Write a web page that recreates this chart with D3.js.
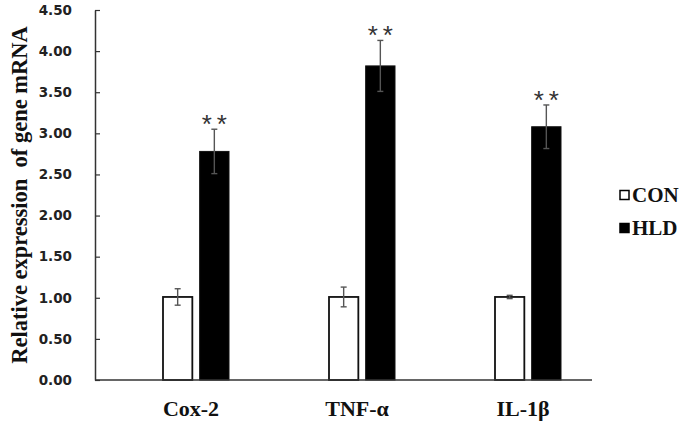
<!DOCTYPE html>
<html>
<head>
<meta charset="utf-8">
<script src="https://cdn.jsdelivr.net/npm/d3@7/dist/d3.min.js"></script>
<style>
  html, body { margin: 0; padding: 0; background: #fff; }
  svg { display: block; }
</style>
</head>
<body>
<svg id="chart" width="685" height="426"></svg>
<script>
const categories = ["Cox-2", "TNF-α", "IL-1β"];
const series = ["CON", "HLD"];
const conValues = [1.01, 1.01, 1.01];
const conErrors = [0.10, 0.12, 0.02];
const hldValues = [2.78, 3.82, 3.08];
const hldErrors = [0.27, 0.31, 0.265];
const yTicks = [0, 0.5, 1, 1.5, 2, 2.5, 3, 3.5, 4, 4.5];
const yTitle = "Relative expression  of gene mRNA";

const svg = d3.select("#chart");
const serif = "'Liberation Serif', 'Times New Roman', serif";

const y = d3.scaleLinear().domain([0, 4.5]).range([380, 10]);
const x0 = d3.scaleBand().domain(categories).range([113, 611]);
const x1 = d3.scaleBand().domain(series)
  .range([x0.bandwidth() / 2 - 33, x0.bandwidth() / 2 + 33]).paddingInner(0.2);

const rows = categories.map((c, i) => ({
  cat: c,
  items: [
    { s: "CON", v: conValues[i], e: conErrors[i] },
    { s: "HLD", v: hldValues[i], e: hldErrors[i] }
  ]
}));

// Bars
const g = svg.append("g");
const groups = g.selectAll("g.cat").data(rows).join("g")
  .attr("transform", d => `translate(${x0(d.cat)},0)`);

groups.selectAll("rect").data(d => d.items).join("rect")
  .attr("x", d => x1(d.s))
  .attr("y", d => y(d.v))
  .attr("width", x1.bandwidth())
  .attr("height", d => y(0) - y(d.v))
  .attr("fill", d => d.s === "CON" ? "#fff" : "#000")
  .attr("stroke", "#111")
  .attr("stroke-width", d => d.s === "CON" ? 1.8 : 1);

// Error bars
const eb = groups.selectAll("g.err").data(d => d.items).join("g")
  .attr("stroke", "#555").attr("stroke-width", 1.4);
eb.append("line")
  .attr("x1", d => x1(d.s) + x1.bandwidth() / 2)
  .attr("x2", d => x1(d.s) + x1.bandwidth() / 2)
  .attr("y1", d => y(d.v + d.e))
  .attr("y2", d => y(d.v - d.e));
eb.append("line")
  .attr("x1", d => x1(d.s) + x1.bandwidth() / 2 - 3)
  .attr("x2", d => x1(d.s) + x1.bandwidth() / 2 + 3)
  .attr("y1", d => y(d.v + d.e)).attr("y2", d => y(d.v + d.e));
eb.append("line")
  .attr("x1", d => x1(d.s) + x1.bandwidth() / 2 - 3)
  .attr("x2", d => x1(d.s) + x1.bandwidth() / 2 + 3)
  .attr("y1", d => y(d.v - d.e)).attr("y2", d => y(d.v - d.e));

// Significance stars
groups.selectAll("text.star").data(d => d.items.filter(it => it.s === "HLD")).join("text")
  .attr("class", "star")
  .attr("x", d => x1(d.s) + x1.bandwidth() / 2 + 2.5)
  .attr("y", d => y(d.v + d.e) + 4)
  .attr("text-anchor", "middle")
  .attr("font-family", "'Liberation Sans', Arial, sans-serif")
  .attr("font-size", 26)
  .attr("letter-spacing", 5)
  .attr("fill", "#333")
  .text("**");

// Y axis
const yAxis = d3.axisLeft(y).tickValues(yTicks).tickFormat(d3.format(".2f"))
  .tickSizeInner(-5).tickSizeOuter(0).tickPadding(23);
const ya = svg.append("g").attr("transform", "translate(95,0)").call(yAxis);
ya.select(".domain").attr("stroke", "#333").attr("stroke-width", 1.5);
ya.selectAll(".tick line").attr("stroke", "#333").attr("stroke-width", 1.2);
ya.selectAll(".tick text")
  .attr("font-family", "'DejaVu Sans', Verdana, sans-serif")
  .attr("font-weight", "bold")
  .attr("font-size", 13.5)
  .attr("fill", "#222");

// X axis line
svg.append("line")
  .attr("x1", 95).attr("x2", 592)
  .attr("y1", y(0)).attr("y2", y(0))
  .attr("stroke", "#333").attr("stroke-width", 1.5);

// X labels
const xAxis = d3.axisBottom(x0).tickSize(0).tickPadding(20);
const xa = svg.append("g").attr("transform", `translate(-5,${y(0)})`).call(xAxis);
xa.select(".domain").remove();
xa.selectAll(".tick text")
  .attr("font-family", serif)
  .attr("font-weight", "bold")
  .attr("font-size", 22)
  .attr("fill", "#111");

// Y title
svg.append("text")
  .attr("transform", "translate(27,195) rotate(-90)")
  .attr("text-anchor", "middle")
  .attr("font-family", serif)
  .attr("font-weight", "bold")
  .attr("font-size", 22.5)
  .attr("fill", "#111")
  .style("white-space", "pre")
  .attr("xml:space", "preserve")
  .text(yTitle);

// Legend
const legend = svg.append("g");
const ly = [195, 228];
series.forEach((s, i) => {
  legend.append("rect")
    .attr("x", 620).attr("y", ly[i] - 4.5)
    .attr("width", 9).attr("height", 9)
    .attr("fill", s === "CON" ? "#fff" : "#000")
    .attr("stroke", "#000").attr("stroke-width", 1.5);
  legend.append("text")
    .attr("x", 632).attr("y", ly[i])
    .attr("dy", "0.35em")
    .attr("font-family", serif)
    .attr("font-weight", "bold")
    .attr("font-size", 21)
    .attr("fill", "#111")
    .text(s);
});
</script>
</body>
</html>
